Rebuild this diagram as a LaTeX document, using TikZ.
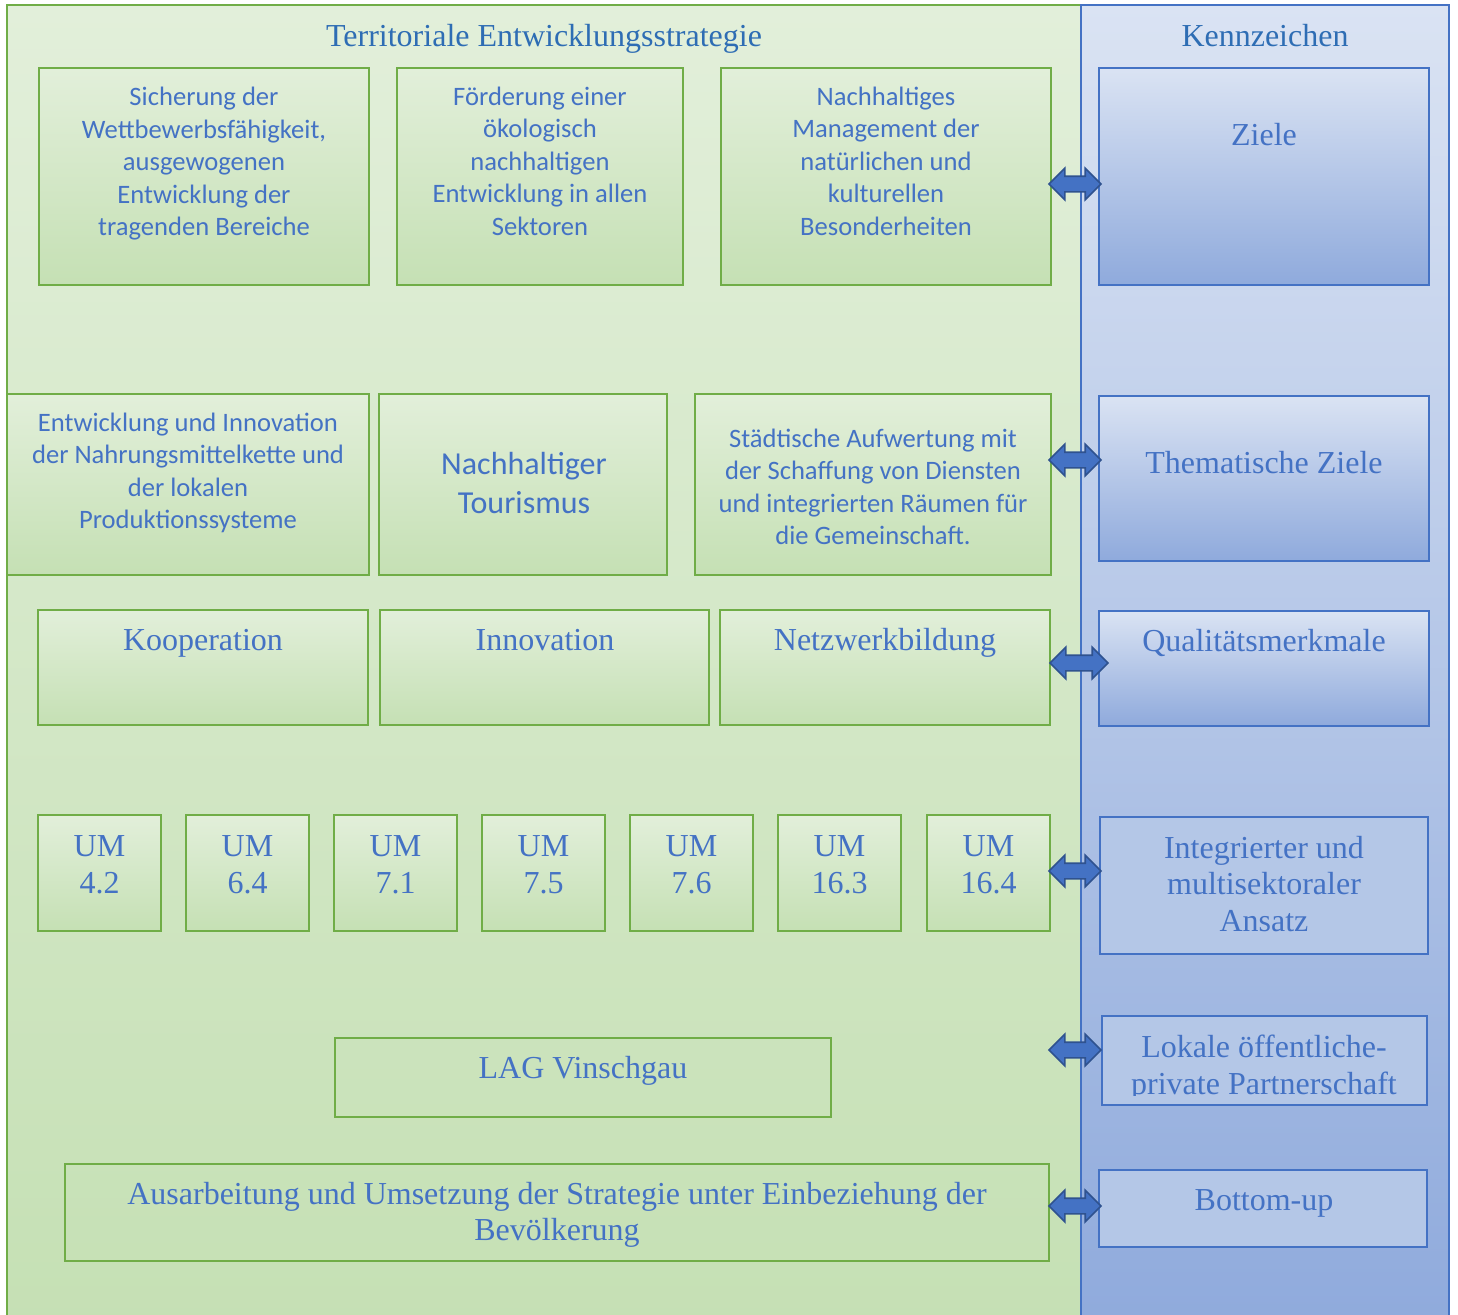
\documentclass[tikz,border=0pt]{standalone}
\usepackage{fontspec}
\setmainfont{Liberation Serif}
\newfontfamily\calib{Carlito}
\usetikzlibrary{fit,shapes.arrows}
\definecolor{gA}{HTML}{E2EFDA}
\definecolor{gB}{HTML}{C5E0B4}
\definecolor{gline}{HTML}{70AD47}
\definecolor{bA}{HTML}{DAE3F3}
\definecolor{bB}{HTML}{8FAADC}
\definecolor{bC}{HTML}{B4C7E7}
\definecolor{bline}{HTML}{4472C4}
\definecolor{txt}{HTML}{4472C4}
\definecolor{ttl}{HTML}{2E6DB4}
\definecolor{arrline}{HTML}{2F528F}
\begin{document}
\begin{tikzpicture}[x=0.5pt,y=-0.5pt,
  every node/.style={inner sep=0pt, outer sep=0pt},
  gpanel/.style={draw=gline, line width=1pt, top color=gA, bottom color=gB},
  bpanel/.style={draw=bline, line width=1pt, top color=bA, bottom color=bB},
  ggrad/.style={draw=gline, line width=1pt, top color=gA, bottom color=gB},
  gplain/.style={draw=gline, line width=0.9pt},
  bgrad/.style={draw=bline, line width=0.9pt, top color=bA, bottom color=bB},
  bflat/.style={draw=bline, line width=0.9pt, fill=bC},
  sans/.style={text=txt, align=center, font=\calib\fontsize{13.3}{16.25}\selectfont},
  sansbig/.style={text=txt, align=center, font=\calib\fontsize{16}{19.5}\selectfont},
  serif/.style={text=txt, align=center, font=\fontsize{16}{18.2}\selectfont,
    execute at begin node={\strut}, execute at end node={\strut}},
  title/.style={serif, text=ttl},
  dbl/.style={double arrow, double arrow head extend=4pt, inner xsep=0pt, inner ysep=3.5pt,
    minimum height=26pt, fill=bline, draw=arrline, line width=0.8pt}
]
\useasboundingbox (0,0) rectangle (1458,1314);

% panels
\node[gpanel, fit={(7,5) (1081,1330)}] (G) {};
\node[bpanel, fit={(1081,5) (1449,1330)}] (B) {};
\node[title] (tG) at (544,39) {Territoriale Entwicklungsstrategie};
\node[title] (tB) at (1265,39) {Kennzeichen};

% row 1
\node[ggrad, fit={(39,68) (369,285)}] (A1) {};
\node[ggrad, fit={(397,68) (683,285)}] (A2) {};
\node[ggrad, fit={(721,68) (1051,285)}] (A3) {};
\node[bgrad, fit={(1099,68) (1429,285)}] (Z1) {};
\node[sans] at (204,164) {Sicherung der\\Wettbewerbsfähigkeit,\\ausgewogenen\\Entwicklung der\\tragenden Bereiche};
\node[sans] at (540,161) {Förderung einer\\ökologisch\\nachhaltigen\\Entwicklung in allen\\Sektoren};
\node[sans] at (886,161) {Nachhaltiges\\Management der\\natürlichen und\\kulturellen\\Besonderheiten};
\node[serif] at (1264,138) {Ziele};

% row 2
\node[ggrad, fit={(7,394) (369,575)}] (B1) {};
\node[ggrad, fit={(379,394) (667,575)}] (B2) {};
\node[ggrad, fit={(695,394) (1051,575)}] (B3) {};
\node[bgrad, fit={(1099,396) (1429,561)}] (Z2) {};
\node[sans] at (188,473) {Entwicklung und Innovation\\der Nahrungsmittelkette und\\der lokalen\\Produktionssysteme};
\node[sansbig] at (524,483) {Nachhaltiger\\Tourismus};
\node[sans] at (873,487) {Städtische Aufwertung mit\\der Schaffung von Diensten\\und integrierten Räumen für\\die Gemeinschaft.};
\node[serif] at (1264,466) {Thematische Ziele};

% row 3
\node[ggrad, fit={(38,610) (368,725)}] (C1) {};
\node[ggrad, fit={(380,610) (709,725)}] (C2) {};
\node[ggrad, fit={(720,610) (1050,725)}] (C3) {};
\node[bgrad, fit={(1099,611) (1429,726)}] (Z3) {};
\node[serif] at (203,643) {Kooperation};
\node[serif] at (545,643) {Innovation};
\node[serif] at (885,643) {Netzwerkbildung};
\node[serif] at (1264,644) {Qualitätsmerkmale};

% row 4
\foreach \x/\n/\t in {38/1/4.2, 186/2/6.4, 334/3/7.1, 482/4/7.5, 630/5/7.6, 778/6/16.3, 927/7/16.4}{
  \node[ggrad, fit={(\x,815) (\x+123,931)}] (U\n) {};
  \node[serif] at (\x+61.5,870) {UM\\\t};
}
\node[bflat, fit={(1100,817) (1428,954)}] (Z4) {};
\node[serif, font=\fontsize{16}{18.25}\selectfont] at (1264,889) {Integrierter und\\multisektoraler\\Ansatz};

% row 5
\node[gplain, fit={(335,1038) (831,1117)}] (L1) {};
\node[serif] at (583,1071) {LAG Vinschgau};
\node[bflat, fit={(1102,1016) (1427,1105)}] (Z5) {};
\begin{scope}
  \clip (1102,1016) rectangle (1427,1095);
  \node[serif] at (1264,1070) {Lokale öffentliche-\\private Partnerschaft};
\end{scope}

% row 6
\node[gplain, fit={(65,1164) (1049,1261)}] (M1) {};
\node[serif] at (557,1217) {Ausarbeitung und Umsetzung der Strategie unter Einbeziehung der\\Bevölkerung};
\node[bflat, fit={(1099,1170) (1427,1247)}] (Z6) {};
\node[serif] at (1264,1203) {Bottom-up};

% double arrows
\node[dbl] (ar1) at (1075,184) {};
\node[dbl] (ar2) at (1075,460) {};
\node[dbl, minimum height=29pt] (ar3) at (1079,663) {};
\node[dbl] (ar4) at (1075,871) {};
\node[dbl] (ar5) at (1075,1050) {};
\node[dbl] (ar6) at (1075,1206) {};
\end{tikzpicture}
\end{document}
